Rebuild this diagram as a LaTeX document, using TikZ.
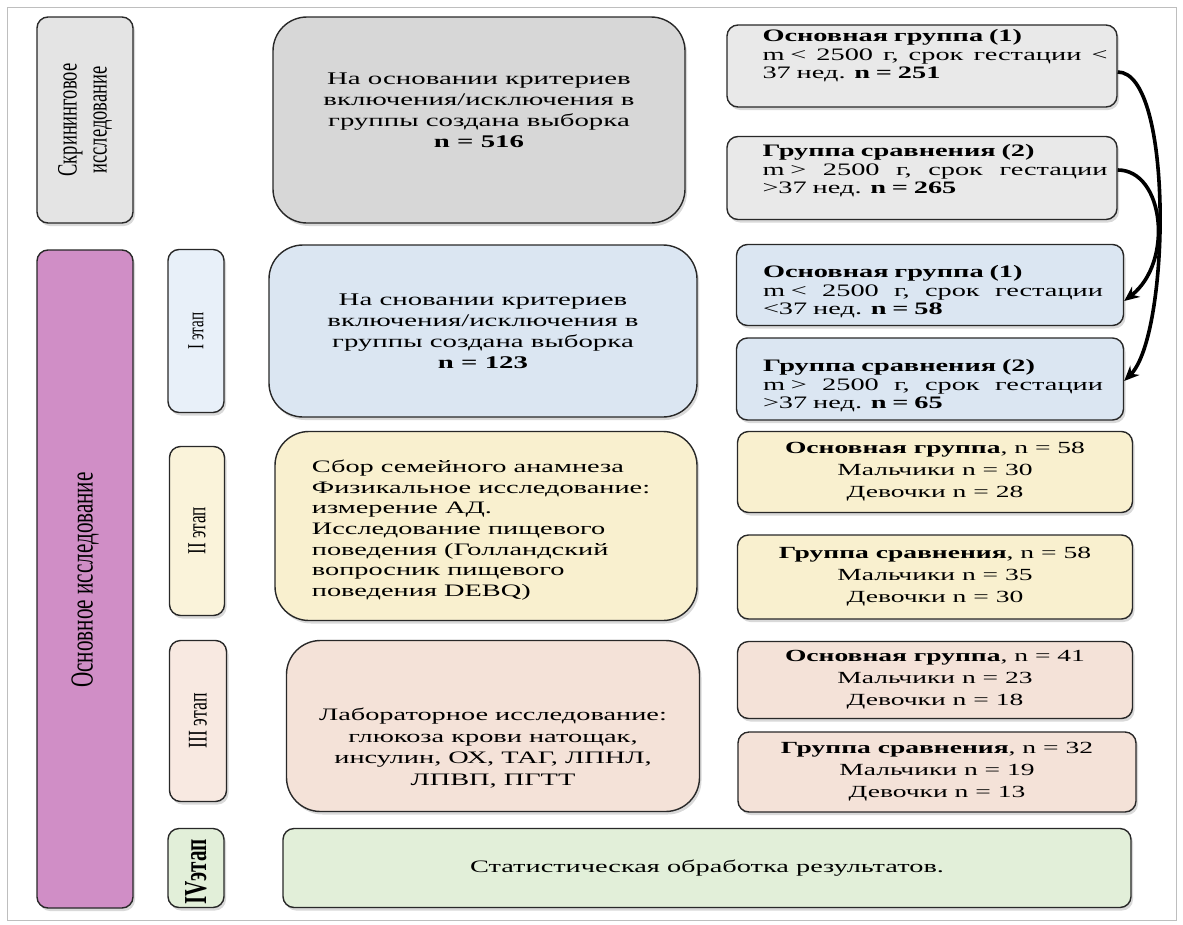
\documentclass[tikz,border=0pt]{standalone}
\usepackage{fontspec}
\setmainfont{Liberation Serif}[FakeStretch=1.62]
\newfontfamily\vfont{Liberation Serif}[FakeStretch=0.66]
\usetikzlibrary{shadows,arrows.meta}

\definecolor{edge}{RGB}{40,40,40}
\definecolor{framecol}{RGB}{190,190,190}
\definecolor{scrfill}{RGB}{228,228,228}
\definecolor{selfill}{RGB}{215,215,215}
\definecolor{grpfill}{RGB}{233,233,233}
\definecolor{mainfill}{RGB}{208,142,198}
\definecolor{bluefill}{RGB}{219,230,242}
\definecolor{st1fill}{RGB}{232,240,249}
\definecolor{yelfill}{RGB}{249,240,207}
\definecolor{st2fill}{RGB}{250,243,218}
\definecolor{peachfill}{RGB}{244,226,216}
\definecolor{st3fill}{RGB}{248,233,225}
\definecolor{greenfill}{RGB}{226,239,217}

\tikzset{
  card/.style={draw=edge, line width=1.4pt, rounded corners=11pt,
    drop shadow={shadow xshift=2pt, shadow yshift=-3pt, opacity=0.3}},
  bigcard/.style={card, rounded corners=34pt},
  vtxt/.style={rotate=90, inner sep=0pt, align=center},
  txt/.style={inner sep=0pt, align=center},
  grptxt/.style={inner sep=0pt, align=left, font=\fontsize{17.5}{18.5}\selectfont},
  subtxt/.style={align=center, font=\fontsize{17}{22}\selectfont},
}

\begin{document}
\begin{tikzpicture}[x=1pt, y=-1pt]
  \useasboundingbox (0,0) rectangle (1183,924);
  \draw[framecol, line width=1pt] (7,7) rectangle (1176,920);
  \draw
    (85,120) node[card, fill=scrfill, minimum width=96pt, minimum height=206pt] (scr){}
    (85,120) node[vtxt, font=\vfont\fontsize{28}{30}\selectfont] (scrt){Скрининговое\\исследование}
    (479,120) node[bigcard, fill=selfill, minimum width=412pt, minimum height=206pt] (sel){}
    (479,110) node[txt, font=\fontsize{17.8}{21}\selectfont] (selt){На основании критериев\\включения/исключения в\\группы создана выборка\\\textbf{n = 516}}
    (922,66) node[card, fill=grpfill, minimum width=390pt, minimum height=82pt] (g1){}
    (935,56) node[grptxt, text width=345pt] (g1t){\textbf{Основная группа (1)}\\\makebox[345pt][s]{m <\hfill 2500\hfill г,\hfill срок\hfill гестации\hfill <}\\37 нед. \textbf{n = 251}}
    (922,178) node[card, fill=grpfill, minimum width=390pt, minimum height=83pt] (g2){}
    (935,171) node[grptxt, text width=345pt] (g2t){\textbf{Группа сравнения (2)}\\\makebox[345pt][s]{m >\hfill 2500\hfill г,\hfill срок\hfill гестации}\\>37 нед. \textbf{n = 265}};
  \draw
    (85,579) node[card, fill=mainfill, minimum width=96pt, minimum height=658pt] (main){}
    (85,580) node[vtxt, font=\vfont\fontsize{32}{34}\selectfont] (maint){Основное исследование}
    (196,331) node[card, fill=st1fill, minimum width=56pt, minimum height=163pt] (st1){}
    (196,331) node[vtxt, font=\vfont\fontsize{23}{25}\selectfont] (st1t){I этап}
    (483,331) node[bigcard, fill=bluefill, minimum width=428pt, minimum height=172pt, txt, font=\fontsize{17.8}{21}\selectfont] (smp){На сновании критериев\\включения/исключения в\\группы создана выборка\\\textbf{n = 123}}
    (930,285) node[card, fill=bluefill, minimum width=387pt, minimum height=81pt] (b1){}
    (933,292) node[grptxt, text width=340pt] (b1t){\textbf{Основная группа (1)}\\\makebox[340pt][s]{m <\hfill 2500\hfill г,\hfill срок\hfill гестации}\\<37 нед. \textbf{n = 58}}
    (930,379) node[card, fill=bluefill, minimum width=387pt, minimum height=82pt] (b2){}
    (933,386) node[grptxt, text width=340pt] (b2t){\textbf{Группа сравнения (2)}\\\makebox[340pt][s]{m >\hfill 2500\hfill г,\hfill срок\hfill гестации}\\>37 нед. \textbf{n = 65}};
  \draw
    (197,531) node[card, fill=st2fill, minimum width=55pt, minimum height=169pt] (st2){}
    (197,531) node[vtxt, font=\vfont\fontsize{26}{28}\selectfont] (st2t){II этап}
    (486,526) node[bigcard, fill=yelfill, minimum width=422pt, minimum height=189pt] (exam){}
    (481,530) node[inner sep=0pt, align=left, font=\fontsize{17.5}{20.6}\selectfont] (examt){Сбор семейного анамнеза\\Физикальное исследование:\\измерение АД.\\Исследование пищевого\\поведения (Голландский\\вопросник пищевого\\поведения DEBQ)}
    (935,472) node[card, fill=yelfill, minimum width=395pt, minimum height=81pt, subtxt] (y1){\textbf{Основная группа}, n = 58\\Мальчики n = 30\\Девочки n = 28}
    (935,577) node[card, fill=yelfill, minimum width=395pt, minimum height=84pt, subtxt] (y2){\textbf{Группа сравнения}, n = 58\\Мальчики n = 35\\Девочки n = 30};
  \draw
    (198,721) node[card, fill=st3fill, minimum width=57pt, minimum height=161pt] (st3){}
    (198,721) node[vtxt, font=\vfont\fontsize{27}{29}\selectfont] (st3t){III этап}
    (493,726) node[bigcard, fill=peachfill, minimum width=413pt, minimum height=171pt] (lab){}
    (493,748) node[txt, font=\fontsize{17.5}{21.5}\selectfont] (labt){Лабораторное исследование:\\глюкоза крови натощак,\\инсулин, ОХ, ТАГ, ЛПНЛ,\\ЛПВП, ПГТТ}
    (935,680) node[card, fill=peachfill, minimum width=395pt, minimum height=77pt, subtxt] (p1){\textbf{Основная группа}, n = 41\\Мальчики n = 23\\Девочки n = 18}
    (937,772) node[card, fill=peachfill, minimum width=398pt, minimum height=80pt, subtxt] (p2){\textbf{Группа сравнения}, n = 32\\Мальчики n = 19\\Девочки n = 13};
  \draw
    (196,868) node[card, fill=greenfill, minimum width=56pt, minimum height=79pt] (st4){}
    (196,872) node[vtxt, font=\vfont\fontsize{32}{34}\selectfont\bfseries] (st4t){IVэтап}
    (707,868) node[card, fill=greenfill, minimum width=848pt, minimum height=79pt, txt, font=\fontsize{17.5}{21}\selectfont] (stat){Статистическая обработка результатов.};
  \begin{scope}[line width=3.6pt, -{Stealth[length=15pt, width=13pt]}]
    \draw ([yshift=-6pt]g1.east) .. controls (1174,72) and (1170,335) .. ([yshift=-2pt]b2.east);
    \draw ([yshift=8pt]g2.east) .. controls (1164,170) and (1174,262) .. ([yshift=-16pt]b1.east);
  \end{scope}
\end{tikzpicture}
\end{document}
